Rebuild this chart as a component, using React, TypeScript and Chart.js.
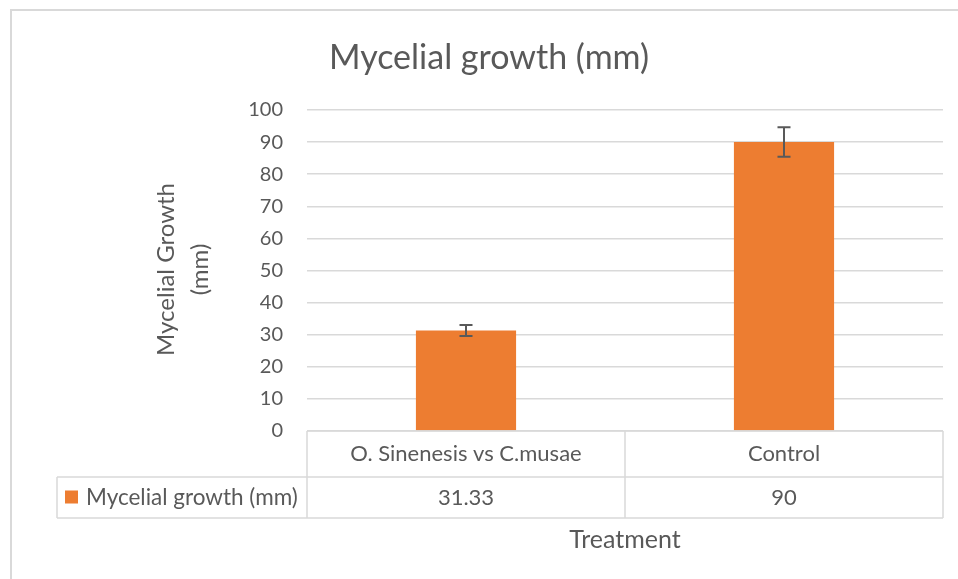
import React, { useEffect, useRef } from "react";
import { Chart, registerables } from "chart.js";

Chart.register(...registerables);

const categories = ["O. Sinenesis vs C.musae", "Control"];
const seriesName = "Mycelial growth (mm)";
const values = [31.33, 90];
const errors = [1.7, 4.6];
const valueLabels = ["31.33", "90"];
const chartTitle = "Mycelial growth (mm)";
const yTitleLines = ["Mycelial Growth", "(mm)"];
const xTitle = "Treatment";
const yMin = 0;
const yMax = 100;
const yStep = 10;

const FONT = "Lato, 'Open Sans', sans-serif";
const GREY = "#595959";
const LINE = "#d9d9d9";
const ORANGE = "#ed7d31";

const excelPlugin = {
  id: "excelLook",
  beforeDraw(chart: any) {
    const ctx = chart.ctx;
    ctx.save();
    ctx.fillStyle = "#ffffff";
    ctx.fillRect(0, 0, chart.width, chart.height);
    ctx.strokeStyle = LINE;
    ctx.lineWidth = 2;
    ctx.beginPath();
    ctx.moveTo(11, chart.height);
    ctx.lineTo(11, 10);
    ctx.lineTo(chart.width, 10);
    ctx.stroke();
    ctx.restore();
  },
  afterDatasetsDraw(chart: any) {
    const ctx = chart.ctx;
    const y = chart.scales.y;
    const meta = chart.getDatasetMeta(0);
    ctx.save();
    ctx.strokeStyle = GREY;
    ctx.lineWidth = 2;
    values.forEach((v, i) => {
      const bar = meta.data[i];
      const x = bar.x;
      const top = y.getPixelForValue(v + errors[i]);
      const bot = y.getPixelForValue(v - errors[i]);
      ctx.beginPath();
      ctx.moveTo(x, top);
      ctx.lineTo(x, bot);
      ctx.moveTo(x - 6.5, top);
      ctx.lineTo(x + 6.5, top);
      ctx.moveTo(x - 6.5, bot);
      ctx.lineTo(x + 6.5, bot);
      ctx.stroke();
    });
    ctx.restore();
  },
  afterDraw(chart: any) {
    const ctx = chart.ctx;
    const area = chart.chartArea;
    const xs = chart.scales.x;
    const n = categories.length;
    const bounds: number[] = [area.left];
    for (let i = 0; i < n - 1; i++) {
      bounds.push((xs.getPixelForValue(i) + xs.getPixelForValue(i + 1)) / 2);
    }
    bounds.push(area.right);
    const t0 = area.bottom;
    const t1 = t0 + 46;
    const t2 = t1 + 41;
    const legLeft = 57;

    ctx.save();
    ctx.strokeStyle = LINE;
    ctx.lineWidth = 1.5;
    ctx.beginPath();
    ctx.moveTo(area.left, t0);
    ctx.lineTo(area.right, t0);
    ctx.moveTo(legLeft, t1);
    ctx.lineTo(area.right, t1);
    ctx.moveTo(legLeft, t2);
    ctx.lineTo(area.right, t2);
    ctx.moveTo(legLeft, t1);
    ctx.lineTo(legLeft, t2);
    bounds.forEach((b) => {
      ctx.moveTo(b, t0);
      ctx.lineTo(b, t2);
    });
    ctx.stroke();

    ctx.fillStyle = GREY;
    ctx.font = `22px ${FONT}`;
    ctx.textAlign = "center";
    ctx.textBaseline = "middle";
    categories.forEach((c, i) => {
      const cx = (bounds[i] + bounds[i + 1]) / 2;
      ctx.fillText(c, cx, (t0 + t1) / 2);
      ctx.fillText(valueLabels[i], cx, (t1 + t2) / 2);
    });

    // legend key in table
    ctx.fillStyle = ORANGE;
    ctx.fillRect(65, (t1 + t2) / 2 - 7, 13, 13);
    ctx.fillStyle = GREY;
    ctx.textAlign = "left";
    ctx.font = `22.5px ${FONT}`;
    ctx.fillText(seriesName, 86, (t1 + t2) / 2);

    // chart title
    ctx.font = `34px ${FONT}`;
    ctx.textAlign = "center";
    ctx.textBaseline = "alphabetic";
    ctx.fillText(chartTitle, 489, 69);

    // x axis title
    ctx.font = `25px ${FONT}`;
    ctx.textBaseline = "middle";
    ctx.fillText(xTitle, (area.left + area.right) / 2, 540);

    // y axis title
    ctx.save();
    ctx.translate(183, (area.top + area.bottom) / 2 - 1);
    ctx.rotate(-Math.PI / 2);
    ctx.font = `24px ${FONT}`;
    ctx.fillText(yTitleLines[0], 0, -17);
    ctx.fillText(yTitleLines[1], 0, 17);
    ctx.restore();

    ctx.restore();
  },
};

export default function App() {
  const ref = useRef<HTMLCanvasElement | null>(null);

  useEffect(() => {
    if (!ref.current) return;
    const chart = new Chart(ref.current, {
      type: "bar",
      data: {
        labels: categories,
        datasets: [
          {
            label: seriesName,
            data: values,
            backgroundColor: ORANGE,
            borderWidth: 0,
            categoryPercentage: 1,
            barPercentage: 0.315,
          },
        ],
      },
      options: {
        animation: false,
        responsive: false,
        maintainAspectRatio: false,
        devicePixelRatio: 1,
        layout: { padding: { top: 110, right: 15, bottom: 148, left: 0 } },
        plugins: {
          legend: { display: false },
          title: { display: false },
          tooltip: { enabled: false },
        },
        scales: {
          x: {
            display: false,
          },
          y: {
            min: yMin,
            max: yMax,
            ticks: {
              stepSize: yStep,
              padding: 24,
              color: GREY,
              font: { family: FONT, size: 20 },
            },
            grid: { color: LINE, lineWidth: 1.5, drawTicks: false },
            border: { display: false },
            afterFit(scale: any) {
              scale.width = 307;
            },
          },
        },
      },
      plugins: [excelPlugin],
    });
    return () => chart.destroy();
  }, []);

  return (
    <div style={{ position: "absolute", left: 0, top: 0, width: 958, height: 579 }}>
      <canvas ref={ref} width={958} height={579} style={{ width: 958, height: 579 }} />
    </div>
  );
}
